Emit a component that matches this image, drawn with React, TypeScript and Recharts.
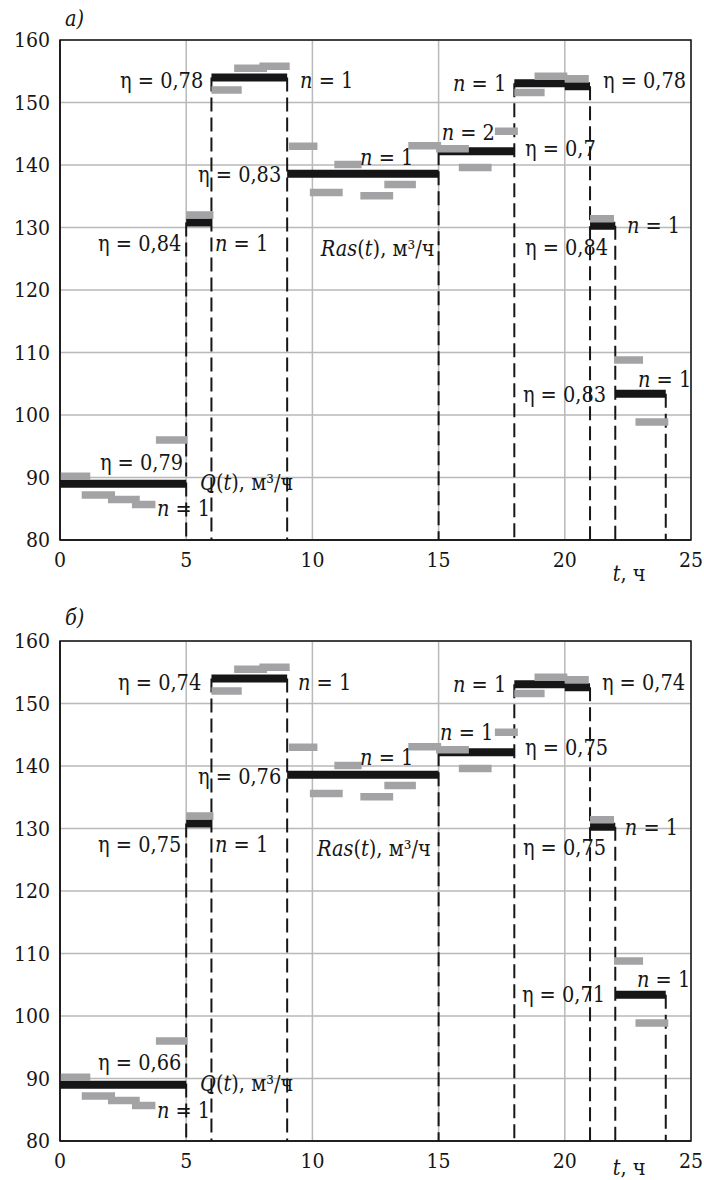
import React from 'react';
import {
  ComposedChart,
  Line,
  XAxis,
  YAxis,
  CartesianGrid,
  ReferenceArea,
  ReferenceDot,
} from 'recharts';

const FONT = 'DejaVu Serif Condensed';
const INK = '#161616';
const GREY = '#a3a3a5';

// ступени подачи Q(t), м3/ч
const qFrom = [0, 5, 6, 9, 15, 18, 20, 21, 22];
const qTo = [5, 6, 9, 15, 18, 20, 21, 22, 24];
const qVal = [89.0, 130.8, 154.0, 138.6, 142.2, 153.1, 152.6, 130.3, 103.4];

// почасовой расход Ras(t), м3/ч
const rasFrom = [0, 0.86, 1.9, 2.85, 3.8, 5.0, 6.0, 6.9, 7.9, 9.07, 9.9, 10.87, 11.9, 12.85, 13.8, 14.9, 15.8, 17.23, 18.0, 18.8, 20.0, 21.0, 21.95, 22.8];
const rasTo = [1.2, 2.18, 3.16, 3.78, 5.06, 6.08, 7.2, 8.2, 9.1, 10.2, 11.2, 11.95, 13.2, 14.1, 15.1, 16.2, 17.1, 18.14, 19.2, 20.1, 20.95, 21.95, 23.1, 24.1];
const rasVal = [90.2, 87.2, 86.5, 85.7, 96.0, 132.0, 152.0, 155.5, 155.8, 143.0, 135.6, 140.1, 135.1, 136.9, 143.1, 142.6, 139.6, 145.4, 151.6, 154.2, 153.8, 131.4, 108.8, 98.9];

// границы ступеней (пунктир)
const stageBounds = [5, 6, 9, 15, 18, 21, 22, 24];

const xTicks = [0, 5, 10, 15, 20, 25];
const yTicks = [80, 90, 100, 110, 120, 130, 140, 150, 160];

type Part = { s: string; i?: boolean };
type Note = { t: number; v: number; parts: Part[] };

const eta = (s: string): Part[] => [{ s: 'η = ' + s }];
const nEq = (k: number): Part[] => [{ s: 'n', i: true }, { s: ' = ' + k }];
const rasText: Part[] = [{ s: 'Ras', i: true }, { s: '(' }, { s: 't', i: true }, { s: '), м³/ч' }];
const qText: Part[] = [{ s: 'Q', i: true }, { s: '(' }, { s: 't', i: true }, { s: '), м³/ч' }];
const tText: Part[] = [{ s: 't', i: true }, { s: ', ч' }];

const notesA: Note[] = [
  { t: 0.2, v: 163.4, parts: [{ s: 'а)', i: true }] },
  { t: 2.38, v: 153.5, parts: eta('0,78') },
  { t: 9.51, v: 153.5, parts: nEq(1) },
  { t: 5.47, v: 138.5, parts: eta('0,83') },
  { t: 1.51, v: 127.4, parts: eta('0,84') },
  { t: 6.14, v: 127.4, parts: nEq(1) },
  { t: 10.33, v: 126.7, parts: rasText },
  { t: 11.89, v: 141.2, parts: nEq(1) },
  { t: 15.12, v: 145.2, parts: nEq(2) },
  { t: 18.42, v: 142.6, parts: eta('0,7') },
  { t: 15.57, v: 153.0, parts: nEq(1) },
  { t: 21.51, v: 153.5, parts: eta('0,78') },
  { t: 18.42, v: 126.8, parts: eta('0,84') },
  { t: 22.46, v: 130.3, parts: nEq(1) },
  { t: 18.34, v: 103.3, parts: eta('0,83') },
  { t: 22.9, v: 105.7, parts: nEq(1) },
  { t: 1.58, v: 92.4, parts: eta('0,79') },
  { t: 5.55, v: 89.2, parts: qText },
  { t: 3.84, v: 85.0, parts: nEq(1) },
  { t: 21.9, v: 74.6, parts: tText },
];

const notesB: Note[] = [
  { t: 0.2, v: 163.8, parts: [{ s: 'б)', i: true }] },
  { t: 2.3, v: 153.4, parts: eta('0,74') },
  { t: 9.43, v: 153.4, parts: nEq(1) },
  { t: 5.47, v: 138.4, parts: eta('0,76') },
  { t: 1.51, v: 127.4, parts: eta('0,75') },
  { t: 6.14, v: 127.4, parts: nEq(1) },
  { t: 10.18, v: 126.8, parts: rasText },
  { t: 11.89, v: 141.3, parts: nEq(1) },
  { t: 15.06, v: 145.4, parts: nEq(1) },
  { t: 18.42, v: 142.9, parts: eta('0,75') },
  { t: 15.57, v: 153.0, parts: nEq(1) },
  { t: 21.47, v: 153.4, parts: eta('0,74') },
  { t: 18.34, v: 126.9, parts: eta('0,75') },
  { t: 22.38, v: 130.2, parts: nEq(1) },
  { t: 18.3, v: 103.4, parts: eta('0,71') },
  { t: 22.86, v: 105.8, parts: nEq(1) },
  { t: 1.51, v: 92.6, parts: eta('0,66') },
  { t: 5.55, v: 89.2, parts: qText },
  { t: 3.84, v: 84.9, parts: nEq(1) },
  { t: 21.9, v: 75.7, parts: tText },
];

const segments = (from: number[], to: number[], val: number[]) =>
  from.flatMap((f, i) => [
    { t: f, v: val[i] },
    { t: to[i], v: val[i] },
    { t: to[i], v: null },
  ]);

const qData = segments(qFrom, qTo, qVal);
const rasData = segments(rasFrom, rasTo, rasVal);
const dashData = stageBounds.flatMap((b) => {
  const top = Math.max(...qVal.filter((_, i) => qFrom[i] === b || qTo[i] === b));
  return [
    { t: b, v: top },
    { t: b, v: 80 },
    { t: b, v: null },
  ];
});

const noteShape = (parts: Part[]) => (props: any) => (
  <text
    x={props.cx}
    y={props.cy}
    dy="0.35em"
    fontSize={21.5}
    fill={INK}
    fontFamily={FONT}
    style={{ whiteSpace: 'pre' }}
  >
    {parts.map((p, i) => (
      <tspan key={i} fontStyle={p.i ? 'italic' : 'normal'}>
        {p.s}
      </tspan>
    ))}
  </text>
);

const tickStyle = { fontSize: 21, fill: INK, fontFamily: FONT };

const Panel = ({ notes, height, bottom }: { notes: Note[]; height: number; bottom: number }) => (
  <ComposedChart
    width={704}
    height={height}
    margin={{ top: 40, right: 13, left: 0, bottom }}
  >
    <CartesianGrid stroke="#b9b9b9" strokeWidth={1.5} />
    <XAxis
      dataKey="t"
      type="number"
      domain={[0, 25]}
      ticks={xTicks}
      height={30}
      tickLine={false}
      tickSize={0}
      tickMargin={12}
      axisLine={{ stroke: INK, strokeWidth: 1.5 }}
      tick={tickStyle}
    />
    <YAxis
      dataKey="v"
      type="number"
      domain={[80, 160]}
      ticks={yTicks}
      width={60}
      tickLine={false}
      tickSize={0}
      tickMargin={10}
      axisLine={{ stroke: INK, strokeWidth: 1.5 }}
      tick={tickStyle}
    />
    <ReferenceArea x1={0} x2={25} y1={80} y2={160} fill="none" stroke={INK} strokeWidth={1.5} />
    <Line
      data={dashData}
      dataKey="v"
      stroke={INK}
      strokeWidth={2}
      strokeDasharray="14 6"
      dot={false}
      activeDot={false}
      isAnimationActive={false}
    />
    <Line
      data={qData}
      dataKey="v"
      stroke={INK}
      strokeWidth={8}
      dot={false}
      activeDot={false}
      isAnimationActive={false}
    />
    <Line
      data={rasData}
      dataKey="v"
      stroke={GREY}
      strokeWidth={7.5}
      dot={false}
      activeDot={false}
      isAnimationActive={false}
    />
    {notes.map((n, i) => (
      <ReferenceDot key={i} x={n.t} y={n.v} r={1} ifOverflow="visible" shape={noteShape(n.parts)} />
    ))}
  </ComposedChart>
);

export default function App() {
  return (
    <div style={{ position: 'absolute', left: 0, top: 0, width: 704, height: 1180, background: '#fff', overflow: 'hidden' }}>
      <div style={{ position: 'absolute', left: 0, top: 0 }}>
        <Panel notes={notesA} height={600} bottom={30} />
      </div>
      <div style={{ position: 'absolute', left: 0, top: 601 }}>
        <Panel notes={notesB} height={579} bottom={9} />
      </div>
    </div>
  );
}
